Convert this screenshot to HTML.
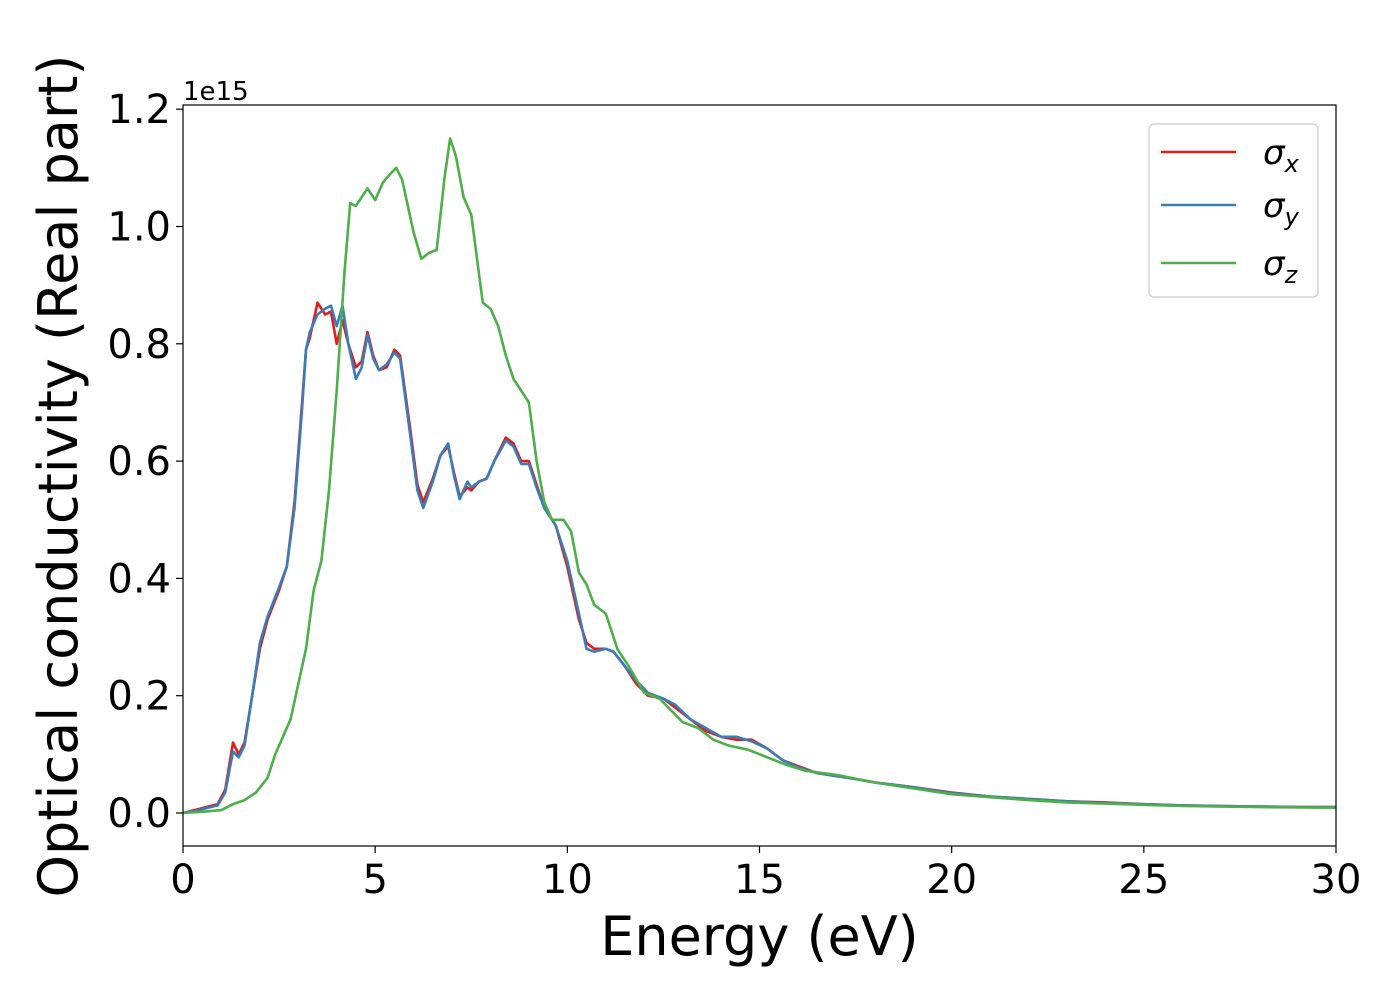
<!DOCTYPE html>
<html><head><meta charset="utf-8"><style>
body{margin:0;background:#fff;}
svg{display:block;font-family:"DejaVu Sans","Liberation Sans",sans-serif;}
</style></head><body>
<svg id="chart" width="1400" height="1000" xmlns="http://www.w3.org/2000/svg"></svg>
<script>
const ticksX=[0,5,10,15,20,25,30];
const ticksY=[0.0,0.2,0.4,0.6,0.8,1.0,1.2];
const eX=[0,0.3,0.6,0.9,1.1,1.3,1.45,1.6,1.8,2.0,2.2,2.5,2.7,2.9,3.1,3.2,3.3,3.5,3.7,3.85,4.0,4.15,4.3,4.5,4.65,4.8,4.95,5.1,5.3,5.5,5.65,5.9,6.1,6.25,6.5,6.7,6.9,7.05,7.2,7.4,7.5,7.7,7.9,8.1,8.4,8.6,8.8,9.0,9.2,9.4,9.7,10.0,10.3,10.5,10.7,11.0,11.2,11.5,11.8,12.1,12.5,12.8,13.2,13.6,14.0,14.4,14.8,15.2,15.6,16.0,16.5,17,17.5,18,19,20,21,22,23,24,25,26,27,28,29,30];
const sigmaX=[0,0.005,0.01,0.015,0.04,0.12,0.10,0.12,0.2,0.28,0.33,0.38,0.42,0.53,0.7,0.79,0.81,0.87,0.85,0.855,0.80,0.84,0.80,0.76,0.77,0.82,0.78,0.755,0.76,0.79,0.78,0.66,0.56,0.53,0.57,0.61,0.625,0.58,0.54,0.555,0.55,0.565,0.57,0.60,0.64,0.63,0.60,0.60,0.56,0.52,0.49,0.42,0.33,0.29,0.28,0.28,0.275,0.25,0.22,0.20,0.195,0.18,0.16,0.14,0.13,0.125,0.125,0.11,0.09,0.08,0.068,0.063,0.058,0.052,0.044,0.035,0.028,0.024,0.02,0.018,0.015,0.013,0.012,0.011,0.01,0.01];
const sigmaY=[0,0.003,0.008,0.013,0.035,0.105,0.095,0.115,0.2,0.29,0.335,0.385,0.42,0.52,0.69,0.79,0.82,0.85,0.86,0.865,0.83,0.865,0.80,0.74,0.76,0.815,0.775,0.755,0.765,0.785,0.775,0.65,0.55,0.52,0.565,0.61,0.63,0.575,0.535,0.565,0.555,0.565,0.57,0.60,0.635,0.625,0.595,0.595,0.555,0.52,0.49,0.43,0.34,0.28,0.275,0.28,0.275,0.25,0.225,0.205,0.195,0.185,0.16,0.145,0.13,0.13,0.122,0.11,0.09,0.078,0.068,0.063,0.058,0.052,0.044,0.034,0.028,0.024,0.02,0.017,0.015,0.013,0.012,0.011,0.01,0.01];
const eZ=[0,0.5,1.0,1.3,1.6,1.9,2.2,2.4,2.6,2.8,3.0,3.2,3.4,3.6,3.8,4.0,4.2,4.35,4.5,4.65,4.8,5.0,5.2,5.4,5.55,5.7,6.0,6.2,6.4,6.6,6.8,6.95,7.1,7.3,7.5,7.7,7.8,8.0,8.2,8.4,8.6,8.8,9.0,9.2,9.4,9.6,9.9,10.1,10.3,10.5,10.7,11.0,11.3,11.6,12.0,12.4,12.7,13.0,13.4,13.8,14.2,14.7,15.2,15.7,16.2,17,18,19,20,21,22,23,24,25,26,28,30];
const sigmaZ=[0,0.002,0.005,0.015,0.022,0.035,0.06,0.1,0.13,0.16,0.22,0.28,0.38,0.43,0.55,0.72,0.92,1.04,1.035,1.05,1.065,1.045,1.075,1.09,1.10,1.08,0.99,0.945,0.955,0.96,1.08,1.15,1.12,1.05,1.02,0.92,0.87,0.86,0.83,0.78,0.74,0.72,0.70,0.60,0.53,0.50,0.50,0.48,0.41,0.39,0.355,0.34,0.28,0.25,0.205,0.195,0.175,0.155,0.145,0.125,0.115,0.108,0.095,0.082,0.072,0.065,0.052,0.042,0.032,0.027,0.022,0.018,0.016,0.014,0.012,0.01,0.009];

const L=183,R=1336,T=105,B=846;
const xs=e=>L+(e-0)/(30-0)*(R-L);
const Y0=813,PER=586.5;
const ys=v=>Y0-v*PER;
const NS="http://www.w3.org/2000/svg";
const svg=document.getElementById('chart');
function mk(tag,attrs,parent){const el=document.createElementNS(NS,tag);for(const k in attrs)el.setAttribute(k,attrs[k]);(parent||svg).appendChild(el);return el;}

const clip=mk('clipPath',{id:'cp'});mk('rect',{x:L,y:T,width:R-L,height:B-T},clip);

function line(es,vs,color,name){
  let d='';for(let i=0;i<es.length;i++)d+=(i?'L':'M')+xs(es[i]).toFixed(1)+','+ys(vs[i]).toFixed(1);
  const p=mk('path',{d:d,fill:'none',stroke:color,'stroke-width':2.6,'stroke-linejoin':'round','clip-path':'url(#cp)'});
  
  
}
line(eX,sigmaX,'#e41a1c','series-sigma-x');
line(eX,sigmaY,'#377eb8','series-sigma-y');
line(eZ,sigmaZ,'#4daf4a','series-sigma-z');

const frame=mk('rect',{x:L,y:T,width:R-L,height:B-T,fill:'none',stroke:'#000','stroke-width':1.2});



ticksX.forEach(t=>{
  mk('line',{x1:xs(t),x2:xs(t),y1:B,y2:B+7,stroke:'#000','stroke-width':1.2});
  const tx=mk('text',{x:xs(t),y:B+47,'font-size':40,'text-anchor':'middle'});
  tx.textContent=String(t);
  
  
});
ticksY.forEach(t=>{
  mk('line',{x1:L-7,x2:L,y1:ys(t),y2:ys(t),stroke:'#000','stroke-width':1.2});
  const tx=mk('text',{x:L-12,y:ys(t)+14,'font-size':40,'text-anchor':'end'});
  tx.textContent=t.toFixed(1);
  
  
});
const off=mk('text',{x:L,y:100,'font-size':26});off.textContent='1e15';


const xl=mk('text',{x:(L+R)/2,y:955,'font-size':54,'text-anchor':'middle'});xl.textContent='Energy (eV)';


const yl=mk('text',{x:0,y:0,'font-size':54,'text-anchor':'middle',transform:'translate(77,476) rotate(-90)'});yl.textContent='Optical conductivity (Real part)';



const lg=mk('g',{});


mk('rect',{x:1149,y:124,width:169,height:173,rx:5,fill:'#fff',stroke:'#ccc','stroke-width':1.2},lg);
const items=[['x','#e41a1c',152],['y','#377eb8',205],['z','#4daf4a',263]];
items.forEach(([s,c,yy])=>{
  const g=mk('g',{},lg);
  
  
  mk('line',{x1:1161,x2:1236,y1:yy,y2:yy,stroke:c,'stroke-width':2.6},g);
  const t=mk('text',{x:1263,y:yy+12,'font-size':34,'font-style':'italic'},g);
  t.textContent='σ';
  const sub=mk('tspan',{'font-size':24,dy:8},t);sub.textContent=s;
});
</script>
</body></html>
